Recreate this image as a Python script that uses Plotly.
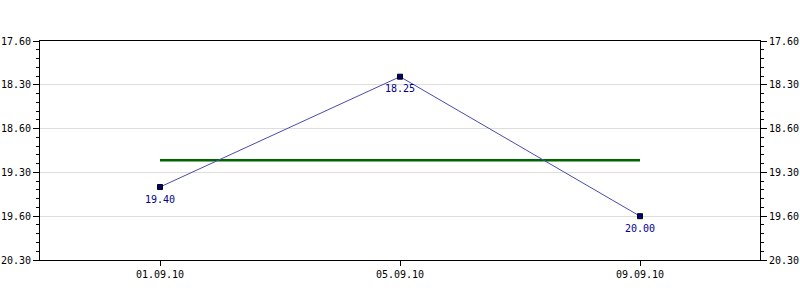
import plotly.graph_objects as go

# Data
dates = ["2010-09-01", "2010-09-05", "2010-09-09"]
x_tick_text = ["01.09.10", "05.09.10", "09.09.10"]
# vertical positions in axis units (as drawn) and the printed value labels
y_pos = [19.40, 18.04, 19.76]
y_labels = ["19.40", "18.25", "20.00"]
avg_pos = [19.07, 19.07]
avg_dates = ["2010-09-01", "2010-09-09"]

y_tick_vals = [17.60, 18.14, 18.68, 19.22, 19.76, 20.30]
y_tick_text = ["17.60", "18.30", "18.60", "19.30", "19.60", "20.30"]

# minor ticks: 4 between each pair of majors
minor_vals = []
for a, b in zip(y_tick_vals[:-1], y_tick_vals[1:]):
    for k in range(1, 5):
        minor_vals.append(a + (b - a) * k / 5)

FONT = dict(family="DejaVu Sans Mono", size=10, color="#000000")

fig = go.Figure()
fig.add_trace(go.Scatter(
    x=avg_dates, y=avg_pos, mode="lines",
    line=dict(color="#006400", width=2.5), hoverinfo="skip", showlegend=False))
fig.add_trace(go.Scatter(
    x=dates, y=y_pos, mode="lines+markers",
    line=dict(color="#4a4ab0", width=1),
    marker=dict(symbol="square", size=5, color="#000080",
                line=dict(color="#000000", width=1)),
    showlegend=False))
# invisible trace for right axis
fig.add_trace(go.Scatter(x=[dates[0]], y=[y_pos[0]], yaxis="y2",
                         mode="markers", marker=dict(opacity=0),
                         hoverinfo="skip", showlegend=False))

for xd, yv, lab in zip(dates, y_pos, y_labels):
    fig.add_annotation(x=xd, y=yv, text=lab, showarrow=False, yshift=-12,
                       font=dict(family="DejaVu Sans Mono", size=10,
                                 color="#00008b"))

yaxis_common = dict(
    range=[20.30, 17.60], tickmode="array", tickvals=y_tick_vals,
    ticktext=y_tick_text, ticks="outside", ticklen=6, tickcolor="#000",
    showline=True, linecolor="#000", linewidth=1, automargin=False,
    tickfont=FONT, zeroline=False,
    minor=dict(tickmode="array", tickvals=minor_vals, ticks="outside",
               ticklen=3, tickcolor="#000", showgrid=False),
)

fig.update_layout(
    width=800, height=300,
    margin=dict(l=40, r=40, t=41, b=40),
    paper_bgcolor="white", plot_bgcolor="white",
    xaxis=dict(
        type="date", range=["2010-08-30", "2010-09-11"],
        tickmode="array", tickvals=dates, ticktext=x_tick_text,
        ticks="outside", ticklen=5, tickcolor="#000", automargin=False,
        showline=True, linecolor="#000", linewidth=1, mirror=True,
        showgrid=False, tickfont=FONT, zeroline=False,
    ),
    yaxis=dict(**yaxis_common, side="left", showgrid=True,
               gridcolor="#dddddd", gridwidth=1),
    yaxis2=dict(**yaxis_common, side="right", overlaying="y",
                showgrid=False),
)

fig.write_html("out.html")
